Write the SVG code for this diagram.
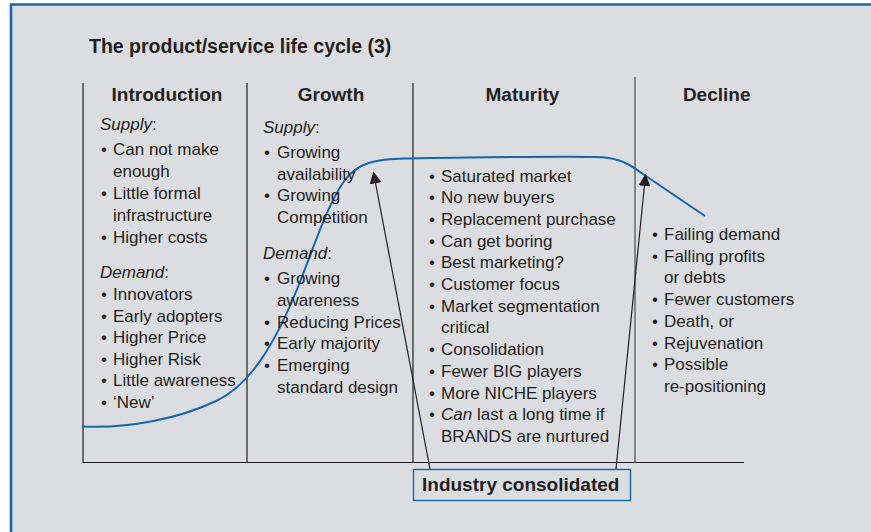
<svg xmlns="http://www.w3.org/2000/svg" width="871" height="532" viewBox="0 0 871 532">
<style>
text{font-family:"Liberation Sans",Arial,sans-serif;fill:#231f20}
.t{font-size:19px;font-weight:bold}
.tt{font-size:19.5px;font-weight:bold}
.h{font-size:19px;font-weight:bold;text-anchor:middle}
.b{font-size:17px}
.i{font-style:italic}
.ln{stroke:#231f20;stroke-width:1.2;fill:none}
.ar{stroke:#231f20;stroke-width:1.2;fill:none;marker-end:url(#ah)}
</style>
<defs>
<marker id="ah" viewBox="0 0 12 12" refX="11" refY="6" markerWidth="12" markerHeight="12" markerUnits="userSpaceOnUse" orient="auto">
<path d="M0,0 L12,6 L0,12 Z" fill="#231f20"/>
</marker>
</defs>
<rect x="0" y="0" width="871" height="532" fill="#ffffff"/>
<rect x="11" y="4" width="860" height="528" fill="#dcdde0"/>
<path d="M11,532 V4.5 H871" fill="none" stroke="#1565b0" stroke-width="2.6"/>
<text class="tt" x="89" y="53">The product/service life cycle (3)</text>
<g id="frame">
<path class="ln" d="M83,83 V462.5 H744"/>
<path class="ln" d="M247,83 V462.5"/>
<path class="ln" d="M413,83 V462.5"/>
<path d="M635,77 V462.5" stroke="#6d6e70" stroke-width="1.6" fill="none"/>
</g>
<g id="curve">
<path d="M82,426.5 C130,429 180,418 216,401 C250,385 275,345 300,282 C318,235 330,200 345,180 C358,163 375,159 405,158.5 C470,157.5 560,156 595,157 C615,157.5 625,161 640,172 L705,216" fill="none" stroke="#1565b0" stroke-width="2"/>
</g>
<g id="introduction">
<text class="h" x="167" y="101">Introduction</text>
<text class="b" x="100" y="130"><tspan class="i">Supply</tspan>:</text>
<text class="b" x="101" y="155">•</text><text class="b" x="113" y="155">Can not make</text>
<text class="b" x="113" y="177">enough</text>
<text class="b" x="101" y="199">•</text><text class="b" x="113" y="199">Little formal</text>
<text class="b" x="113" y="221">infrastructure</text>
<text class="b" x="101" y="243">•</text><text class="b" x="113" y="243">Higher costs</text>
<text class="b" x="100" y="278"><tspan class="i">Demand</tspan>:</text>
<text class="b" x="101" y="300">•</text><text class="b" x="113" y="300">Innovators</text>
<text class="b" x="101" y="321.6">•</text><text class="b" x="113" y="321.6">Early adopters</text>
<text class="b" x="101" y="343.2">•</text><text class="b" x="113" y="343.2">Higher Price</text>
<text class="b" x="101" y="364.8">•</text><text class="b" x="113" y="364.8">Higher Risk</text>
<text class="b" x="101" y="386.4">•</text><text class="b" x="113" y="386.4">Little awareness</text>
<text class="b" x="101" y="408">•</text><text class="b" x="113" y="408">‘New’</text>
</g>
<g id="growth">
<text class="h" x="331" y="101">Growth</text>
<text class="b" x="263" y="133"><tspan class="i">Supply</tspan>:</text>
<text class="b" x="264" y="158">•</text><text class="b" x="277" y="158">Growing</text>
<text class="b" x="277" y="179.5">availability</text>
<text class="b" x="264" y="201">•</text><text class="b" x="277" y="201">Growing</text>
<text class="b" x="277" y="222.5">Competition</text>
<text class="b" x="263" y="259"><tspan class="i">Demand</tspan>:</text>
<text class="b" x="264" y="284">•</text><text class="b" x="277" y="284">Growing</text>
<text class="b" x="277" y="305.8">awareness</text>
<text class="b" x="264" y="327.6">•</text><text class="b" x="277" y="327.6">Reducing Prices</text>
<text class="b" x="264" y="349.4">•</text><text class="b" x="277" y="349.4">Early majority</text>
<text class="b" x="264" y="371.2">•</text><text class="b" x="277" y="371.2">Emerging</text>
<text class="b" x="277" y="393">standard design</text>
</g>
<g id="maturity">
<text class="h" x="522.5" y="101">Maturity</text>
<text class="b" x="429" y="181.5">•</text><text class="b" x="441" y="181.5">Saturated market</text>
<text class="b" x="429" y="203.2">•</text><text class="b" x="441" y="203.2">No new buyers</text>
<text class="b" x="429" y="224.9">•</text><text class="b" x="441" y="224.9">Replacement purchase</text>
<text class="b" x="429" y="246.6">•</text><text class="b" x="441" y="246.6">Can get boring</text>
<text class="b" x="429" y="268.3">•</text><text class="b" x="441" y="268.3">Best marketing?</text>
<text class="b" x="429" y="290">•</text><text class="b" x="441" y="290">Customer focus</text>
<text class="b" x="429" y="311.7">•</text><text class="b" x="441" y="311.7">Market segmentation</text>
<text class="b" x="441" y="333.4">critical</text>
<text class="b" x="429" y="355.1">•</text><text class="b" x="441" y="355.1">Consolidation</text>
<text class="b" x="429" y="376.8">•</text><text class="b" x="441" y="376.8">Fewer BIG players</text>
<text class="b" x="429" y="398.5">•</text><text class="b" x="441" y="398.5">More NICHE players</text>
<text class="b" x="429" y="420.2">•</text><text class="b" x="441" y="420.2"><tspan class="i">Can</tspan> last a long time if</text>
<text class="b" x="441" y="441.9">BRANDS are nurtured</text>
</g>
<g id="decline">
<text class="h" x="716.7" y="101">Decline</text>
<text class="b" x="652" y="240">•</text><text class="b" x="664" y="240">Failing demand</text>
<text class="b" x="652" y="261.7">•</text><text class="b" x="664" y="261.7">Falling profits</text>
<text class="b" x="664" y="283.4">or debts</text>
<text class="b" x="652" y="305.1">•</text><text class="b" x="664" y="305.1">Fewer customers</text>
<text class="b" x="652" y="326.8">•</text><text class="b" x="664" y="326.8">Death, or</text>
<text class="b" x="652" y="348.5">•</text><text class="b" x="664" y="348.5">Rejuvenation</text>
<text class="b" x="652" y="370.2">•</text><text class="b" x="664" y="370.2">Possible</text>
<text class="b" x="664" y="391.9">re-positioning</text>
</g>
<g id="connectors">
<line class="ar" x1="430" y1="469" x2="373.5" y2="172.5"/>
<line class="ar" x1="616" y1="469" x2="645.5" y2="175"/>
</g>
<g id="industry-consolidated">
<rect x="413.5" y="469.5" width="217" height="31" fill="#dcdde0" stroke="#1565b0" stroke-width="1.4"/>
<text class="t" x="422" y="491">Industry consolidated</text>
</g>
</svg>
